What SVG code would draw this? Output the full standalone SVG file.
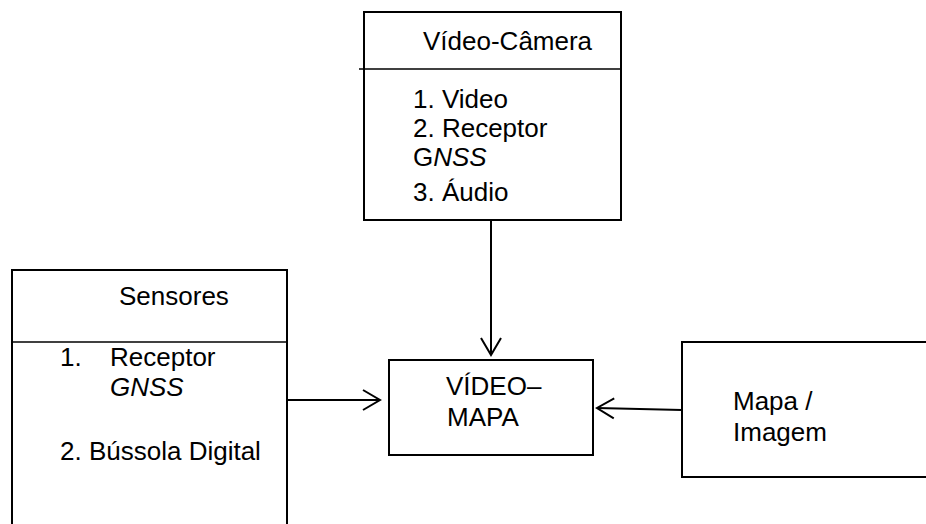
<svg xmlns="http://www.w3.org/2000/svg" width="926" height="524" viewBox="0 0 926 524">
  <style>
    .box { fill: #ffffff; stroke: #000000; stroke-width: 2; }
    .rule { stroke: #000000; stroke-width: 1.5; }
    .lbl { font-family: "Liberation Sans", Arial, sans-serif; font-size: 26px; fill: #000000; }
    .it { font-style: italic; }
    .wire { fill: none; stroke: #000000; stroke-width: 2; }
  </style>
  <defs>
    <marker id="open" markerWidth="20" markerHeight="24" refX="18" refY="12" orient="auto" markerUnits="userSpaceOnUse">
      <path d="M1,2 L18,12 L1,22" fill="none" stroke="#000000" stroke-width="2"/>
    </marker>
  </defs>
  <rect width="926" height="524" fill="#ffffff"/>

  <g id="video-camera">
    <rect class="box" x="364" y="12" width="257" height="208"/>
    <line class="rule" x1="359" y1="69" x2="621" y2="69"/>
    <text class="lbl" x="423" y="50">Vídeo-Câmera</text>
    <text class="lbl" x="413" y="108">1. Video</text>
    <text class="lbl" x="413" y="137">2. Receptor</text>
    <text class="lbl" x="413" y="166">G<tspan class="it">NSS</tspan></text>
    <text class="lbl" x="413" y="201">3. Áudio</text>
  </g>

  <g id="sensores">
    <rect class="box" x="12" y="270" width="275" height="270"/>
    <line class="rule" x1="12" y1="342" x2="287" y2="342"/>
    <text class="lbl" x="119" y="305">Sensores</text>
    <text class="lbl" x="60" y="366">1.</text>
    <text class="lbl" x="110" y="366">Receptor</text>
    <text class="lbl it" x="110" y="396">GNSS</text>
    <text class="lbl" x="60" y="460">2. Bússola Digital</text>
  </g>

  <g id="video-mapa">
    <rect class="box" x="389" y="360" width="204" height="95"/>
    <text class="lbl" x="446" y="395">VÍDEO–</text>
    <text class="lbl" x="447" y="426">MAPA</text>
  </g>

  <g id="mapa-imagem">
    <rect class="box" x="682" y="342" width="260" height="135"/>
    <text class="lbl" x="733" y="410">Mapa /</text>
    <text class="lbl" x="733" y="441">Imagem</text>
  </g>

  <g id="connectors">
    <line class="wire" x1="491" y1="220" x2="491" y2="355" marker-end="url(#open)"/>
    <line class="wire" x1="287" y1="400" x2="380" y2="400" marker-end="url(#open)"/>
    <line class="wire" x1="682" y1="410" x2="597" y2="408" marker-end="url(#open)"/>
  </g>
</svg>
